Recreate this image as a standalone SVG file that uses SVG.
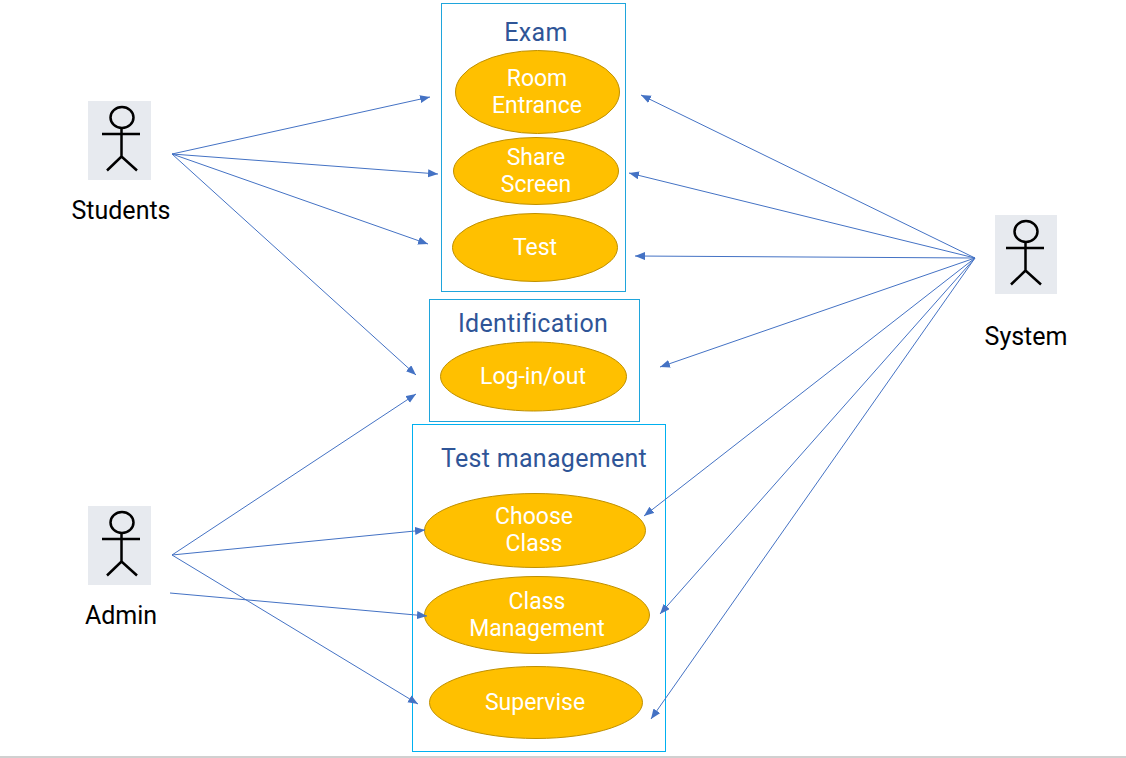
<svg xmlns="http://www.w3.org/2000/svg" width="1126" height="758" viewBox="0 0 1126 758">
<style>
text{font-family:Roboto,"Noto Sans","Liberation Sans",sans-serif;text-anchor:middle}
.box{fill:#fff;stroke:#1fa5dc;stroke-width:1}
.uc{fill:#ffc000;stroke:#bf9000;stroke-width:1}
.ut{fill:#fff;font-size:23px}
.tt{fill:#2f5597;font-size:25px;letter-spacing:.3px}
.al{fill:#000;font-size:25px}
.bg{fill:#e7eaef}
.fig{fill:none;stroke:#000;stroke-width:2.500}
.c{fill:none;stroke:#4472c4;stroke-width:1;marker-end:url(#a)}
</style>
<defs><marker id="a" markerUnits="userSpaceOnUse" markerWidth="11" markerHeight="9" refX="10" refY="4" orient="auto"><path d="M0 0L10 4L0 8Z" fill="#4472c4"/></marker>
<g id="fg" class="fig"><ellipse cx="0" cy="-22.500" rx="11.500" ry="10.500"/><path d="M-.5-12V16.500M-20-6H18M-15 30.500L-.5 16.500L15 30.500"/></g></defs>
<rect width="1126" height="758" fill="#fff"/>
<rect x="0" y="756" width="1126" height="2" fill="#d0d0d0"/>
<g id="exam"><rect class="box" x="441.500" y="3.500" width="184" height="288"/><text class="tt" x="536" y="41">Exam</text></g>
<g id="identification"><rect class="box" x="429.500" y="299.500" width="210" height="122"/><text class="tt" x="533" y="332">Identification</text></g>
<g id="test-management"><rect class="box" x="412.500" y="424.500" width="253" height="327" style="stroke:#00b0f0"/><text class="tt" x="544" y="467">Test management</text></g>
<g id="room"><ellipse class="uc" cx="537.500" cy="92" rx="82" ry="41.500"/><text class="ut" x="537" y="86">Room</text><text class="ut" x="537" y="113">Entrance</text></g>
<g id="share"><ellipse class="uc" cx="536" cy="171" rx="82.500" ry="33.500"/><text class="ut" x="536" y="165">Share</text><text class="ut" x="536" y="192">Screen</text></g>
<g id="test"><ellipse class="uc" cx="535" cy="247.500" rx="82.500" ry="34"/><text class="ut" x="535" y="255">Test</text></g>
<g id="login"><ellipse class="uc" cx="533.500" cy="376.500" rx="93" ry="34.500"/><text class="ut" x="533" y="384">Log-in/out</text></g>
<g id="choose"><ellipse class="uc" cx="535" cy="530.500" rx="110.500" ry="37"/><text class="ut" x="534" y="524">Choose</text><text class="ut" x="534" y="551">Class</text></g>
<g id="class-mgmt"><ellipse class="uc" cx="537" cy="615" rx="112.500" ry="38.500"/><text class="ut" x="537" y="609">Class</text><text class="ut" x="537" y="636">Management</text></g>
<g id="supervise"><ellipse class="uc" cx="536" cy="702.500" rx="106.500" ry="36"/><text class="ut" x="535" y="710">Supervise</text></g>
<g id="students"><rect class="bg" x="88" y="101" width="63" height="79"/><use href="#fg" x="122" y="140"/><text class="al" x="121" y="219">Students</text></g>
<g id="admin"><rect class="bg" x="88" y="506" width="63" height="79"/><use href="#fg" x="122" y="545"/><text class="al" x="121" y="624">Admin</text></g>
<g id="system"><rect class="bg" x="995" y="215" width="62" height="79"/><use href="#fg" x="1026" y="254"/><text class="al" x="1026" y="345">System</text></g>
<g id="connectors">
<path class="c" d="M172 154L430 97"/>
<path class="c" d="M172 154L438 174"/>
<path class="c" d="M172 154L428 244"/>
<path class="c" d="M172 154L416 375"/>
<path class="c" d="M172 555L416 394"/>
<path class="c" d="M172 555L425 530"/>
<path class="c" d="M170 593L427 616"/>
<path class="c" d="M172 555L418 704"/>
<path class="c" d="M975 258L641 95"/>
<path class="c" d="M975 258L629 173"/>
<path class="c" d="M975 258L635 256"/>
<path class="c" d="M975 258L660 367"/>
<path class="c" d="M975 258L644 516"/>
<path class="c" d="M975 258L660 614"/>
<path class="c" d="M975 258L651 719"/>
</g>
</svg>
